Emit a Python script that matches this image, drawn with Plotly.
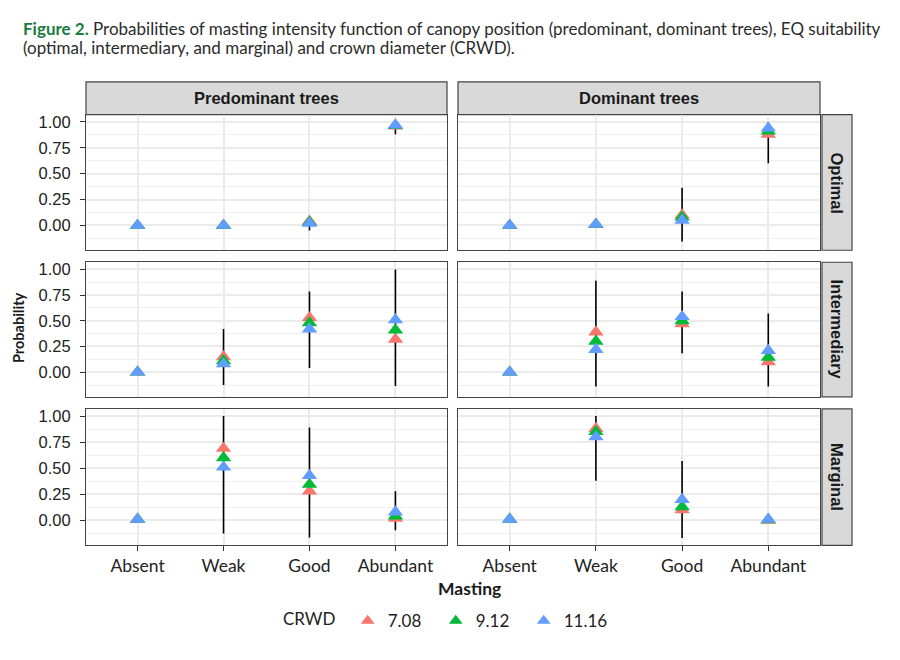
import plotly.graph_objects as go

# ---------------- data ----------------
categories = ["Absent", "Weak", "Good", "Abundant"]
positions = ["Predominant trees", "Dominant trees"]
suitability = ["Optimal", "Intermediary", "Marginal"]
crwd_levels = ["7.08", "9.12", "11.16"]
y_ticks = [0.0, 0.25, 0.5, 0.75, 1.0]
y_ticktext = ["0.00", "0.25", "0.50", "0.75", "1.00"]

# Predominant trees / Optimal
pred_opt_708 = [0.0, 0.0, 0.04, 0.96]
pred_opt_912 = [0.0, 0.0, 0.03, 0.965]
pred_opt_1116 = [0.0, 0.0, 0.02, 0.97]
pred_opt_lo = [None, None, -0.05, 0.88]
pred_opt_hi = [None, None, 0.05, 1.0]

# Dominant trees / Optimal
dom_opt_708 = [0.0, 0.01, 0.10, 0.88]
dom_opt_912 = [0.0, 0.01, 0.08, 0.91]
dom_opt_1116 = [0.0, 0.01, 0.05, 0.94]
dom_opt_lo = [None, None, -0.155, 0.60]
dom_opt_hi = [None, None, 0.365, 1.0]

# Predominant trees / Intermediary
pred_int_708 = [0.0, 0.15, 0.53, 0.32]
pred_int_912 = [0.0, 0.11, 0.48, 0.41]
pred_int_1116 = [0.0, 0.08, 0.42, 0.51]
pred_int_lo = [None, -0.125, 0.04, -0.135]
pred_int_hi = [None, 0.42, 0.785, 1.0]

# Dominant trees / Intermediary
dom_int_708 = [0.0, 0.39, 0.47, 0.10]
dom_int_912 = [0.0, 0.30, 0.50, 0.145]
dom_int_1116 = [0.0, 0.22, 0.54, 0.21]
dom_int_lo = [None, -0.14, 0.185, -0.14]
dom_int_hi = [None, 0.89, 0.785, 0.57]

# Predominant trees / Marginal
pred_mar_708 = [0.01, 0.69, 0.28, 0.02]
pred_mar_912 = [0.01, 0.60, 0.345, 0.04]
pred_mar_1116 = [0.01, 0.51, 0.43, 0.08]
pred_mar_lo = [None, -0.125, -0.165, -0.095]
pred_mar_hi = [None, 1.0, 0.89, 0.28]

# Dominant trees / Marginal
dom_mar_708 = [0.01, 0.88, 0.10, 0.0]
dom_mar_912 = [0.01, 0.85, 0.13, 0.005]
dom_mar_1116 = [0.01, 0.80, 0.20, 0.01]
dom_mar_lo = [None, 0.38, -0.17, None]
dom_mar_hi = [None, 1.0, 0.57, None]

panels = [
    (1, 1, [pred_opt_708, pred_opt_912, pred_opt_1116], pred_opt_lo, pred_opt_hi),
    (1, 2, [dom_opt_708, dom_opt_912, dom_opt_1116], dom_opt_lo, dom_opt_hi),
    (2, 1, [pred_int_708, pred_int_912, pred_int_1116], pred_int_lo, pred_int_hi),
    (2, 2, [dom_int_708, dom_int_912, dom_int_1116], dom_int_lo, dom_int_hi),
    (3, 1, [pred_mar_708, pred_mar_912, pred_mar_1116], pred_mar_lo, pred_mar_hi),
    (3, 2, [dom_mar_708, dom_mar_912, dom_mar_1116], dom_mar_lo, dom_mar_hi),
]

colors = ["#F8766D", "#00BA38", "#619CFF"]

# ---------------- layout geometry (screen pixels) ----------------
W, H = 900, 660
OFF = 8  # page body margin
col_px = [(86, 447), (458, 820)]
row_px = [(113, 249), (261, 396), (408, 545)]
top_strip = (80, 113)
right_strip = (822, 852)

def px_x(x):
    return (x - OFF) / W

def px_y(y):
    return 1 - (y - OFF) / H

x_pos = [1, 2, 3, 4]

fig = go.Figure()
layout = dict(
    width=W, height=H,
    margin=dict(l=0, r=0, t=0, b=0),
    paper_bgcolor="white", plot_bgcolor="white",
    showlegend=True,
)

AXIS_FONT = "Liberation Sans, Arial, sans-serif"
CAL_FONT = "Lato, Open Sans, sans-serif"

for (r, c, series, lo, hi) in panels:
    i = (r - 1) * 2 + c
    xa = "x" if i == 1 else f"x{i}"
    ya = "y" if i == 1 else f"y{i}"
    xk = "xaxis" if i == 1 else f"xaxis{i}"
    yk = "yaxis" if i == 1 else f"yaxis{i}"
    x0, x1 = col_px[c - 1]
    y0, y1 = row_px[r - 1]
    layout[xk] = dict(
        domain=[px_x(x0), px_x(x1)], anchor=ya, range=[0.4, 4.6],
        tickvals=x_pos, ticktext=categories,
        showticklabels=(r == 3), ticks="outside" if r == 3 else "",
        ticklen=5, tickwidth=1.2, tickcolor="#333333",
        tickfont=dict(family=CAL_FONT, size=17.5, color="#222222"),
        showgrid=True, gridcolor="#ebebeb", gridwidth=1.6,
        showline=True, mirror=True, linecolor="#444444", linewidth=1.2,
        zeroline=False, fixedrange=True,
    )
    layout[yk] = dict(
        domain=[px_y(y1), px_y(y0)], anchor=xa, range=[-0.24, 1.07],
        tickvals=y_ticks, ticktext=y_ticktext,
        showticklabels=(c == 1), ticks="outside" if c == 1 else "",
        ticklen=5, tickwidth=1.2, tickcolor="#333333",
        ticklabelstandoff=6,
        tickfont=dict(family=AXIS_FONT, size=16.5, color="#222222"),
        showgrid=True, gridcolor="#ebebeb", gridwidth=1.6,
        minor=dict(tickvals=[-0.125, 0.125, 0.375, 0.625, 0.875],
                   showgrid=True, gridcolor="#f0f0f0", gridwidth=0.8, ticks=""),
        showline=True, mirror=True, linecolor="#444444", linewidth=1.2,
        zeroline=False, fixedrange=True,
    )

    # error bars (drawn under points)
    ex, ey = [], []
    for k in range(len(categories)):
        if lo[k] is None:
            continue
        ex += [x_pos[k], x_pos[k], None]
        ey += [lo[k], hi[k], None]
    fig.add_trace(go.Scatter(x=ex, y=ey, mode="lines", xaxis=xa, yaxis=ya,
                             line=dict(color="black", width=1.6),
                             showlegend=False, hoverinfo="skip"))
    for s, vals in enumerate(series):
        fig.add_trace(go.Scatter(
            x=x_pos, y=vals, mode="markers", xaxis=xa, yaxis=ya,
            name=crwd_levels[s], legendgroup=crwd_levels[s],
            showlegend=(i == 1),
            marker=dict(symbol="triangle-up", size=13.5, color=colors[s],
                        line=dict(width=0)),
        ))

shapes = []
annotations = []
STRIP_FILL = "#d9d9d9"
STRIP_LINE = "#444444"
for c, name in enumerate(positions):
    x0, x1 = col_px[c]
    shapes.append(dict(type="rect", xref="paper", yref="paper",
                       x0=px_x(x0), x1=px_x(x1), y0=px_y(top_strip[1]), y1=px_y(top_strip[0]),
                       fillcolor=STRIP_FILL, line=dict(color=STRIP_LINE, width=1.2), layer="below"))
    annotations.append(dict(xref="paper", yref="paper", x=px_x((x0 + x1) / 2),
                            y=px_y((top_strip[0] + top_strip[1]) / 2), text=f"<b>{name}</b>",
                            showarrow=False, font=dict(family=AXIS_FONT, size=16.5, color="#1a1a1a"),
                            xanchor="center", yanchor="middle"))
for r, name in enumerate(suitability):
    y0, y1 = row_px[r]
    shapes.append(dict(type="rect", xref="paper", yref="paper",
                       x0=px_x(right_strip[0]), x1=px_x(right_strip[1]), y0=px_y(y1), y1=px_y(y0),
                       fillcolor=STRIP_FILL, line=dict(color=STRIP_LINE, width=1.2), layer="below"))
    annotations.append(dict(xref="paper", yref="paper", x=px_x((right_strip[0] + right_strip[1]) / 2),
                            y=px_y((y0 + y1) / 2), text=f"<b>{name}</b>", textangle=90,
                            showarrow=False, font=dict(family=AXIS_FONT, size=16.5, color="#1a1a1a"),
                            xanchor="center", yanchor="middle"))

# axis titles
annotations.append(dict(xref="paper", yref="paper", x=px_x(469), y=px_y(588),
                        text="<b>Masting</b>", showarrow=False,
                        font=dict(family=CAL_FONT, size=17.5, color="#1a1a1a"),
                        xanchor="center", yanchor="middle"))
annotations.append(dict(xref="paper", yref="paper", x=px_x(18), y=px_y(327),
                        text="<b>Probability</b>", showarrow=False, textangle=-90,
                        font=dict(family=CAL_FONT, size=14.5, color="#1a1a1a"),
                        xanchor="center", yanchor="middle"))

# figure caption (two lines)
cap1 = ("<span style='color:#1b7a3e'><b>Figure 2.</b></span> Probabilities of masting intensity "
        "function of canopy position (predominant, dominant trees), EQ suitability")
cap2 = "(optimal, intermediary, and marginal) and crown diameter (CRWD)."
for txt, yc in [(cap1, 27), (cap2, 46)]:
    annotations.append(dict(xref="paper", yref="paper", x=px_x(21), y=px_y(yc),
                            text=txt, showarrow=False, align="left",
                            font=dict(family=CAL_FONT, size=17, color="#2b2b2b"),
                            xanchor="left", yanchor="middle"))

layout["shapes"] = shapes
layout["annotations"] = annotations
layout["legend"] = dict(
    orientation="h", x=px_x(281), xanchor="left", y=px_y(621), yanchor="middle",
    title=dict(text="CRWD ", font=dict(family=CAL_FONT, size=17, color="#222222")),
    font=dict(family=CAL_FONT, size=17, color="#222222"),
    itemsizing="constant", tracegroupgap=0,
    entrywidth=43, entrywidthmode="pixels",
)

fig.update_layout(**layout)
fig.write_html("out.html")
